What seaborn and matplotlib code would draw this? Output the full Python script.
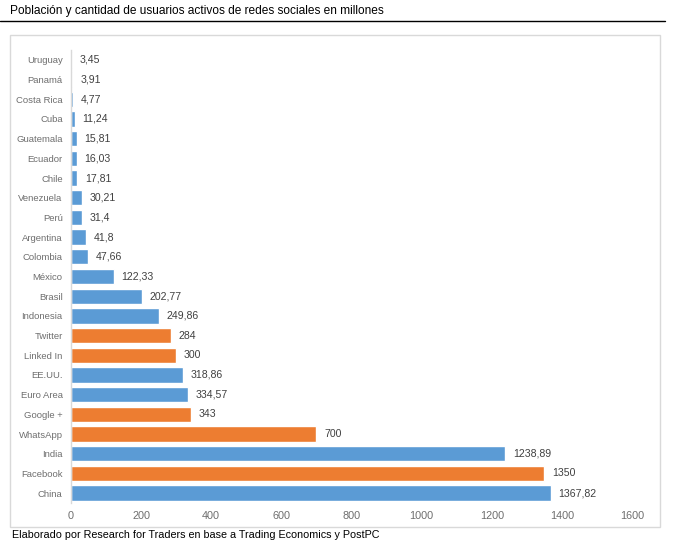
import matplotlib
matplotlib.use("Agg")
import matplotlib.pyplot as plt
import seaborn as sns
import pandas as pd
from matplotlib.patches import Rectangle
from matplotlib.lines import Line2D

categories = ["Uruguay", "Panamá", "Costa Rica", "Cuba", "Guatemala", "Ecuador", "Chile",
              "Venezuela", "Perú", "Argentina", "Colombia", "México", "Brasil", "Indonesia",
              "Twitter", "Linked In", "EE.UU.", "Euro Area", "Google +", "WhatsApp", "India",
              "Facebook", "China"]
values = [3.45, 3.91, 4.77, 11.24, 15.81, 16.03, 17.81, 30.21, 31.4, 41.8, 47.66, 122.33,
          202.77, 249.86, 284, 300, 318.86, 334.57, 343, 700, 1238.89, 1350, 1367.82]
labels = ["3,45", "3,91", "4,77", "11,24", "15,81", "16,03", "17,81", "30,21", "31,4", "41,8",
          "47,66", "122,33", "202,77", "249,86", "284", "300", "318,86", "334,57", "343", "700",
          "1238,89", "1350", "1367,82"]
kind = ["Población"] * 14 + ["Red social", "Red social", "Población", "Población", "Red social",
        "Red social", "Población", "Red social", "Población"]
xticks = [0, 200, 400, 600, 800, 1000, 1200, 1400, 1600]

df = pd.DataFrame({"cat": categories, "val": values, "kind": kind})

sns.set_style("white")
plt.rcParams["font.family"] = ["Liberation Sans", "DejaVu Sans"]

fig = plt.figure(figsize=(6.82, 5.44), dpi=100)
ax = fig.add_axes([71 / 682, 1 - 503 / 544, 561 / 682, 453 / 544])

palette = {"Población": "#5B9BD5", "Red social": "#ED7D31"}
sns.barplot(data=df, y="cat", x="val", hue="kind", palette=palette, dodge=False,
            width=0.78, ax=ax, legend=False, saturation=1)

for i, (v, lab) in enumerate(zip(values, labels)):
    ax.text(v + 22, i, lab, va="center", ha="left", fontsize=7.6, color="#404040")

ax.set_xlim(0, 1600)
ax.set_ylim(len(categories) - 0.5, -0.5)
ax.set_xticks(xticks)
ax.set_xticklabels([str(t) for t in xticks])
ax.set_xlabel("")
ax.set_ylabel("")
ax.tick_params(axis="both", length=0, colors="#6E6E6E")
ax.tick_params(axis="x", pad=6, labelsize=7.8)
ax.tick_params(axis="y", pad=6, labelsize=6.8)
for s in ["top", "right", "bottom"]:
    ax.spines[s].set_visible(False)
ax.spines["left"].set_color("#D9D9D9")
ax.spines["left"].set_linewidth(1)

# chart border
fig.patches.append(Rectangle((10 / 682, 1 - 527 / 544), 650 / 682, 492 / 544,
                             transform=fig.transFigure, fill=False,
                             edgecolor="#D9D9D9", linewidth=1))
# title and rule
fig.text(10 / 682, 1 - 11 / 544, "Población y cantidad de usuarios activos de redes sociales en millones",
         ha="left", va="center", fontsize=8.6, color="black")
fig.lines.append(Line2D([0, 665 / 682], [1 - 21 / 544, 1 - 21 / 544], transform=fig.transFigure,
                        color="black", linewidth=1))
fig.text(12 / 682, 1 - 535 / 544, "Elaborado por Research for Traders en base a Trading Economics y PostPC",
         ha="left", va="center", fontsize=7.75, color="black")

fig.savefig("out.png", dpi=100)
